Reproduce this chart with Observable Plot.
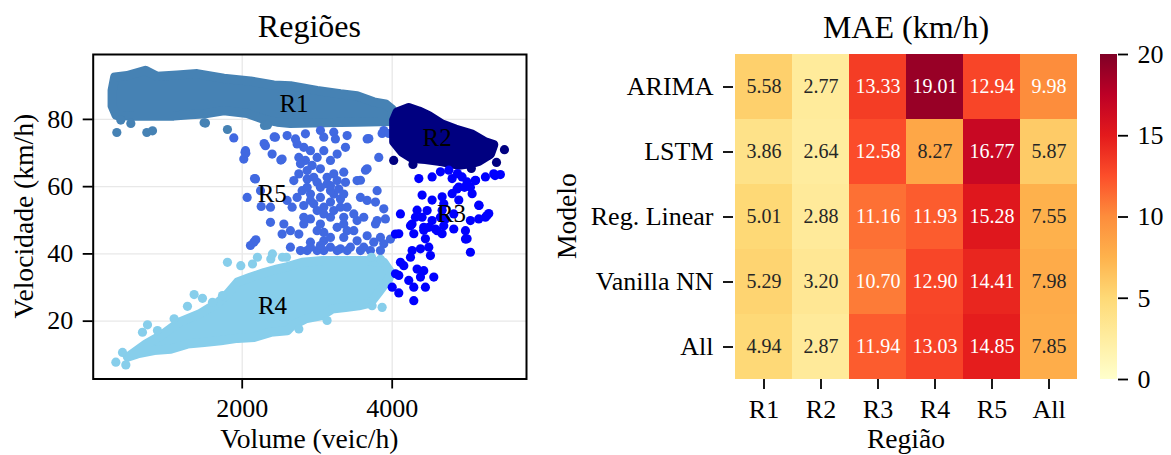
<!DOCTYPE html>
<html><head><meta charset="utf-8">
<script src="https://cdn.jsdelivr.net/npm/d3@7"></script>
<script src="https://cdn.jsdelivr.net/npm/@observablehq/plot@0.6"></script>
<style>
body{margin:0;background:#fff;}
#wrap{position:relative;width:1171px;height:455px;overflow:hidden;font-family:"Liberation Serif","Times New Roman",serif;color:#000;}
.lbl{position:absolute;white-space:nowrap;line-height:1;text-align:center;}
</style></head><body><div id="wrap"></div>
<script>
// ---------- Scatter data (Volume veic/h, Velocidade km/h) ----------
// dense cores (outline of the packed dots) and individual dots, per region
const r1Core = [[300,92.6],[466,93.0],[710,94.6],[866,92.8],[1132,93.2],[1399,93.6],[1755,92.2],[2110,91.4],[2421,90.2],[2643,90.0],[2999,88.6],[3310,87.6],[3532,87.0],[3754,85.2],[3910,84.6],[4000,83.0],[3990,79.4],[3532,79.2],[3088,79.0],[2643,78.8],[2466,79.2],[2288,80.0],[2066,81.8],[1755,82.6],[1488,81.6],[1310,81.4],[1088,81.0],[866,81.0],[555,81.0],[320,81.2],[266,84.0],[266,88.6]];
const r1Pts = [[328,76.1],[381,79.8],[515,78.8],[728,76.1],[804,76.6],[1492,79.0],[1510,78.9],[1803,77.0],[2297,78.2],[2337,78.3]];
const r2Core = [[4066,82.2],[4221,83.5],[4355,82.5],[4488,81.1],[4666,78.6],[4843,77.1],[5066,75.6],[5243,73.3],[5354,72.5],[5310,69.7],[5154,67.5],[5066,66.9],[4888,66.4],[4666,67.4],[4443,68.1],[4266,68.4],[4132,70.3],[4021,73.3],[4021,79.8]];
const r2Pts = [[5497,71.0],[4020,67.8],[4277,66.6],[5055,65.4],[5276,69.3],[5391,67.2],[5253,70.2]];
const r3Pts = [[4355,62.4],[4532,62.9],[4643,64.4],[4755,64.9],[4799,62.4],[4932,62.9],[4999,61.4],[5110,61.9],[5243,62.9],[5354,63.8],[5443,63.6],[5372,63.3],[4888,59.9],[4399,57.5],[4532,56.0],[4666,57.0],[4799,57.9],[4888,56.0],[5066,57.9],[5043,59.8],[5155,54.5],[4332,53.0],[4666,53.0],[5288,52.0],[4466,52.9],[4688,54.9],[4865,59.3],[4110,51.9],[4265,48.9],[4421,47.9],[4599,46.9],[4688,48.4],[4821,47.4],[4977,46.9],[4977,44.4],[5154,50.4],[5265,51.4],[5043,49.9],[5043,40.5],[4043,45.9],[4643,50.9],[4821,51.9],[4310,50.9],[5158,54.4],[5110,61.8],[4964,59.8],[4870,63.9],[4088,46.0],[4288,46.0],[4421,47.0],[4577,47.4],[4666,46.0],[4999,44.5],[4266,41.0],[4377,41.5],[4488,42.0],[4510,39.5],[4244,39.0],[4110,37.5],[4155,36.5],[4332,35.5],[4421,35.0],[4555,33.1],[4088,33.6],[4044,34.1],[4221,32.1],[4288,30.1],[4377,33.1],[4443,30.1],[4000,30.1],[4088,28.4],[4288,26.1],[4399,50.9],[4532,49.9],[4710,50.4],[5243,50.9],[4244,48.4],[4443,44.5],[4488,47.9]];
const r4Core = [[470,9.3],[715,13.2],[915,15.7],[1159,19.7],[1426,22.1],[1670,25.4],[1803,28.1],[1937,31.6],[2115,33.1],[2292,34.4],[2470,35.5],[2603,36.2],[2799,37.5],[3066,38.0],[3377,38.0],[3644,38.0],[3888,37.5],[3977,34.6],[3955,32.6],[3821,28.6],[3710,25.4],[3555,24.6],[3377,24.1],[3199,23.6],[3066,21.7],[2844,20.7],[2666,18.7],[2603,17.2],[2381,16.7],[2159,15.2],[1937,14.9],[1715,14.2],[1492,13.7],[1270,13.2],[1048,11.7],[826,11.3],[604,10.3]];
const r4Pts = [[315,7.8],[448,7.0],[404,10.7],[670,16.7],[737,18.9],[870,17.2],[1092,20.7],[1270,24.4],[1359,27.9],[1470,26.8],[1604,25.6],[1737,27.6],[1803,37.5],[1981,36.5],[2137,37.0],[2203,39.0],[2381,38.5],[2403,40.0],[2537,39.0],[2590,39.0],[2755,17.7],[3132,20.2],[3732,24.6],[3866,24.1],[3844,38.4],[3724,39.0]];
const r5Pts = [[1888,74.5],[2044,70.7],[2021,68.2],[2038,70.2],[2310,72.2],[2399,69.7],[2532,68.2],[2443,74.7],[2599,75.2],[2710,74.2],[2843,75.7],[2821,71.7],[2910,70.7],[3088,74.7],[3043,76.7],[3221,76.2],[3243,74.2],[3399,75.2],[3377,71.7],[3088,70.7],[2999,68.7],[3177,67.8],[3266,69.7],[2755,68.7],[2843,67.8],[2932,66.3],[3043,65.3],[3354,64.3],[3221,63.8],[2755,63.8],[2866,62.3],[2999,61.3],[3132,62.8],[3266,61.8],[3377,61.3],[3532,61.8],[3666,65.3],[3821,68.7],[3888,76.7],[3666,74.2],[3866,75.8],[3955,75.8],[3688,74.3],[3644,64.9],[3577,61.9],[2177,62.3],[2164,62.4],[2066,56.8],[2244,58.8],[2377,53.9],[2253,54.1],[2599,55.9],[2666,53.9],[2799,58.8],[2910,57.8],[2821,54.4],[2954,54.9],[3043,56.8],[3088,53.9],[3221,57.8],[3177,55.4],[3310,56.3],[3399,53.9],[3577,56.8],[3777,55.4],[3888,53.4],[3910,50.4],[3799,49.9],[3532,49.9],[3354,50.9],[3177,50.9],[3043,48.9],[3266,47.9],[3399,46.9],[3088,46.4],[2910,50.4],[2821,50.9],[2555,48.9],[2377,49.4],[2643,46.9],[2755,45.9],[2910,43.5],[3088,43.9],[3177,42.0],[3310,41.5],[3443,42.0],[3577,41.0],[3666,45.4],[3754,43.5],[3843,44.9],[3888,43.0],[3977,44.4],[2866,41.0],[2777,41.0],[2999,41.0],[3088,41.0],[3266,41.0],[3399,41.0],[2155,43.5],[2110,42.5],[2182,44.2],[2532,45.9],[3777,48.9],[3132,60.8],[3177,58.8],[2732,72.7],[2777,66.8],[2688,61.8],[2866,64.8],[2954,62.8],[3043,59.8],[3177,60.3],[3288,59.3],[3354,57.8],[2866,59.8],[2732,56.8],[2910,55.9],[3088,51.9],[3221,52.9],[3310,53.9],[2999,52.9],[2821,48.9],[2999,46.9],[3177,44.9],[3354,44.9],[3532,43.9],[3621,42.0],[2643,42.0],[2910,42.0],[3043,42.5],[3488,46.9],[3710,41.0],[3843,41.0],[3354,48.9],[3488,51.9],[3621,50.9],[3666,55.9],[3799,58.8],[2048,69.9],[2292,72.8],[2426,74.8],[2515,67.9]];
const regionNames = ["R1","R2","R3","R4","R5"];
const labelX = [2691,4599,4791,2404,2401];
const labelY = [84.5,74.5,51.9,24.4,57.7];
const xTicks = [2000,4000];
const yTicks = [20,40,60,80];

// ---------- Heatmap data (MAE km/h) ----------
const models = ["ARIMA","LSTM","Reg. Linear","Vanilla NN","All"];
const regions = ["R1","R2","R3","R4","R5","All"];
const maeARIMA = [5.58,2.77,13.33,19.01,12.94,9.98];
const maeLSTM = [3.86,2.64,12.58,8.27,16.77,5.87];
const maeRegLinear = [5.01,2.88,11.16,11.93,15.28,7.55];
const maeVanillaNN = [5.29,3.20,10.70,12.90,14.41,7.98];
const maeAll = [4.94,2.87,11.94,13.03,14.85,7.85];
const cbTicks = [0,5,10,15,20];

// ---------- styles ----------
const font = '"Liberation Serif","Times New Roman",serif';
const regionColor = {R1:"#4682b4", R2:"#000080", R3:"#0000ff", R4:"#87ceeb", R5:"#4169e1"};
const ylorrd = ["#ffffcc","#ffeda0","#fed976","#feb24c","#fd8d3c","#fc4e2a","#e31a1c","#bd0026","#800026"];
const cmin = 0, cmax = 20;
const stops = ylorrd.map((_, i) => cmin + (cmax - cmin) * i / (ylorrd.length - 1));
const colorOf = d3.scaleLinear().domain(stops).range(ylorrd).interpolate(d3.interpolateRgb);
function lum(c){const r=d3.rgb(c);const f=v=>{v/=255;return v<=0.03928?v/12.92:Math.pow((v+0.055)/1.055,2.4);};return 0.2126*f(r.r)+0.7152*f(r.g)+0.0722*f(r.b);}
const isDark = v => lum(colorOf(v)) <= 0.408;

const wrap = document.getElementById("wrap");
const toXY = a => a.map(([x, y]) => ({x, y}));
const TICK_FS = 26, LABEL_FS = 27.6, TITLE_FS = 32;
const baseStyle = {fontFamily: font, fontSize: TICK_FS + "px", color: "black", background: "transparent", overflow: "visible"};
const DOT_R = 4.6;

// ---------- scatter ----------
const labels = regionNames.map((n, i) => ({name: n, x: labelX[i], y: labelY[i]}));
const core = (pts, c) => Plot.line(toXY(pts), {x: "x", y: "y", curve: "linear-closed", fill: c, stroke: c, strokeWidth: 2 * DOT_R, strokeLinejoin: "round"});
const dots = (pts, c) => Plot.dot(toXY(pts), {x: "x", y: "y", r: DOT_R, fill: c});
const scatter = Plot.plot({
  width: 560, height: 455,
  marginLeft: 92.7, marginRight: 34, marginTop: 54, marginBottom: 76.5,
  style: baseStyle,
  x: {domain: [13, 5791], label: null},
  y: {domain: [2.8, 99.3], label: null},
  marks: [
    Plot.gridX(xTicks, {stroke: "#e8e8e8", strokeOpacity: 1, strokeWidth: 1.3}),
    Plot.gridY(yTicks, {stroke: "#e8e8e8", strokeOpacity: 1, strokeWidth: 1.3}),
    core(r1Core, regionColor.R1), dots(r1Pts, regionColor.R1),
    dots(r5Pts, regionColor.R5),
    core(r4Core, regionColor.R4), dots(r4Pts, regionColor.R4),
    core(r2Core, regionColor.R2), dots(r2Pts, regionColor.R2),
    dots(r3Pts, regionColor.R3),
    Plot.text(labels, {x: "x", y: "y", text: "name", fontSize: 25, fill: "black", textAnchor: "middle", lineAnchor: "middle"}),
    Plot.frame({stroke: "black", strokeWidth: 2}),
    Plot.axisX(xTicks, {tickSize: 10, tickPadding: 10, tickFormat: d3.format("d"), strokeWidth: 1.8, label: null}),
    Plot.axisY(yTicks, {tickSize: 10, tickPadding: 10, strokeWidth: 1.8, label: null})
  ]
});
scatter.style.position = "absolute"; scatter.style.left = "0px"; scatter.style.top = "0px";
wrap.appendChild(scatter);

// ---------- heatmap ----------
const maeRows = [maeARIMA, maeLSTM, maeRegLinear, maeVanillaNN, maeAll];
const cells = models.flatMap((m, i) => regions.map((r, j) => ({model: m, region: r, value: maeRows[i][j]})));
const heat = Plot.plot({
  width: 530, height: 455,
  marginLeft: 173, marginRight: 11, marginTop: 54, marginBottom: 76,
  style: baseStyle,
  x: {domain: regions, padding: 0, label: null},
  y: {domain: models, padding: 0, label: null},
  color: {type: "linear", domain: stops, range: ylorrd, interpolate: "rgb"},
  marks: [
    Plot.cell(cells, {x: "region", y: "model", fill: "value", inset: 0}),
    Plot.text(cells, {filter: d => isDark(d.value), x: "region", y: "model", text: d => d.value.toFixed(2), fill: "white", fontSize: 20}),
    Plot.text(cells, {filter: d => !isDark(d.value), x: "region", y: "model", text: d => d.value.toFixed(2), fill: "#262626", fontSize: 20}),
    Plot.axisX({tickSize: 10, tickPadding: 10, strokeWidth: 1.8, label: null}),
    Plot.axisY({tickSize: 10, tickPadding: 10, strokeWidth: 1.8, label: null})
  ]
});
heat.style.position = "absolute"; heat.style.left = "560px"; heat.style.top = "0px";
wrap.appendChild(heat);

// ---------- colorbar ----------
const cb = Plot.plot({
  width: 81, height: 455,
  marginLeft: 10, marginRight: 54, marginTop: 54, marginBottom: 76,
  style: baseStyle,
  x: {domain: [0, 1], axis: null},
  y: {domain: [cmin, cmax], label: null},
  marks: [
    Plot.rect([0], {x1: 0, x2: 1, y1: cmin, y2: cmax, fill: "black"}),
    Plot.axisY(cbTicks, {anchor: "right", tickSize: 10, tickPadding: 10, strokeWidth: 1.8, label: null})
  ]
});
const cbs = d3.select(cb);
const grad = cbs.insert("defs", ":first-child").append("linearGradient")
  .attr("id", "cbgrad").attr("x1", 0).attr("y1", 1).attr("x2", 0).attr("y2", 0);
ylorrd.forEach((c, i) => grad.append("stop").attr("offset", i / (ylorrd.length - 1)).attr("stop-color", c));
cbs.selectAll('g[aria-label="rect"] rect').attr("fill", "url(#cbgrad)");
cb.style.position = "absolute"; cb.style.left = "1090px"; cb.style.top = "0px";
wrap.appendChild(cb);

// ---------- titles and axis labels ----------
function addLabel(text, a, b, size, rotate) {
  const W = 600, bo = 0.8375 * size;
  const d = document.createElement("div");
  d.className = "lbl"; d.textContent = text;
  d.style.fontSize = size + "px"; d.style.width = W + "px";
  d.style.left = (a - W / 2) + "px"; d.style.top = (b - bo) + "px";
  if (rotate) {
    // a = baseline x, b = centre y
    d.style.transformOrigin = (W / 2) + "px " + bo + "px";
    d.style.transform = "rotate(-90deg)";
  }
  wrap.appendChild(d);
}
addLabel("Regiões", 309.4, 37, TITLE_FS, false);
addLabel("MAE (km/h)", 906, 37.5, TITLE_FS, false);
addLabel("Volume (veic/h)", 309.4, 448, LABEL_FS, false);
addLabel("Região", 906, 448, LABEL_FS, false);
addLabel("Velocidade (km/h)", 32.5, 216.3, LABEL_FS, true);
addLabel("Modelo", 576, 216.5, LABEL_FS, true);
</script></body></html>
